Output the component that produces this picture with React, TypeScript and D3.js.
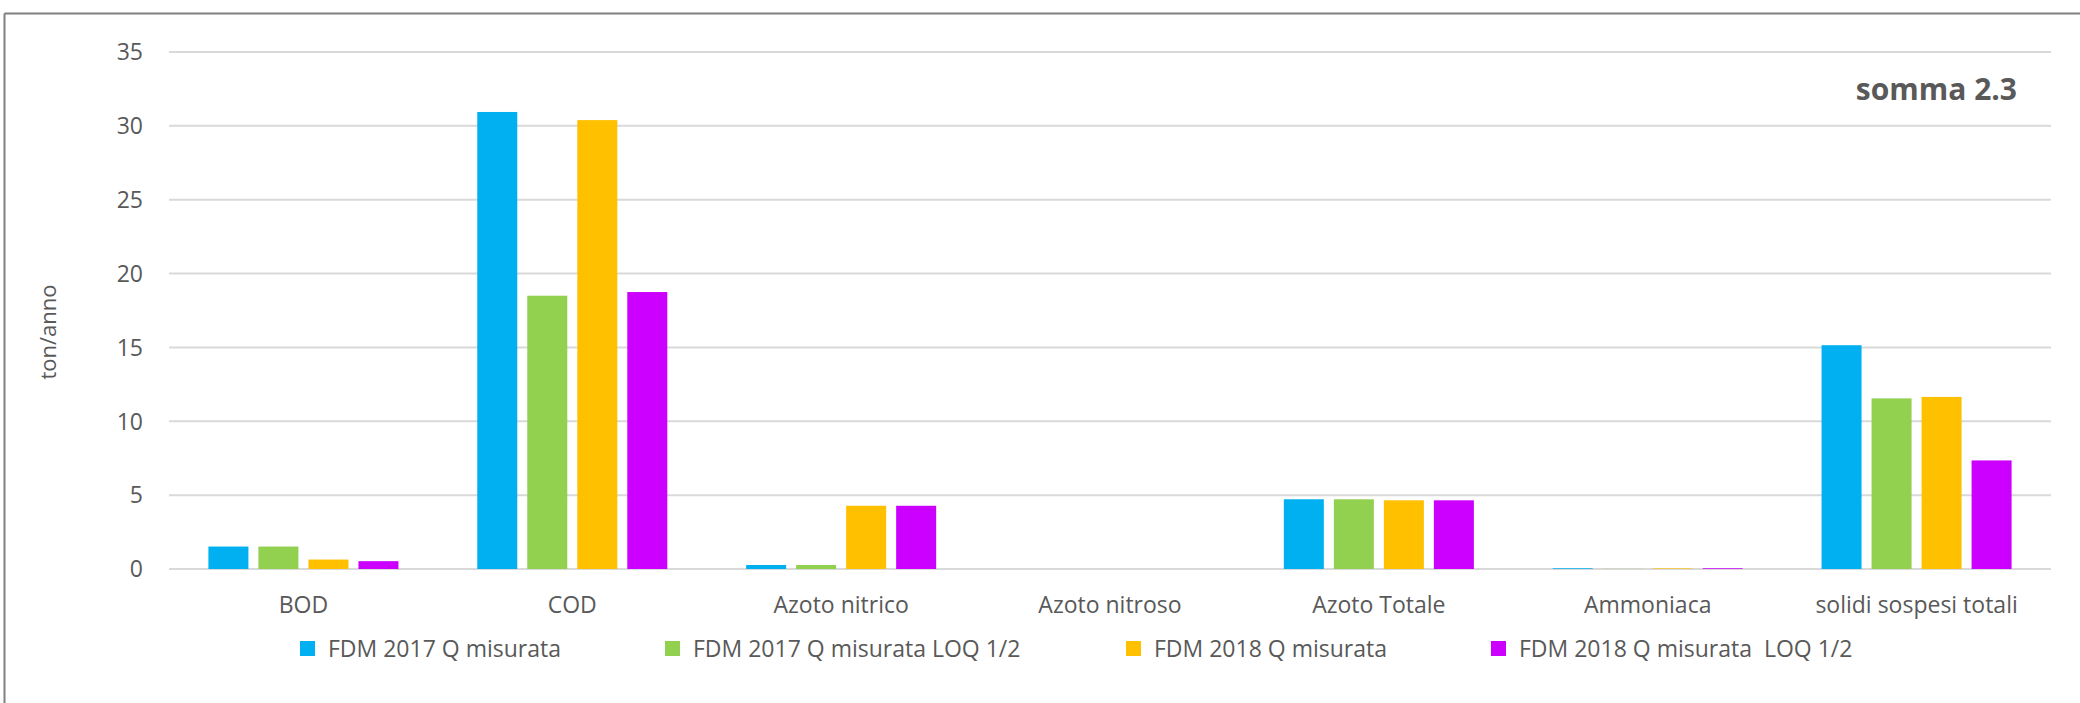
import React from 'react';
import * as d3 from 'd3';

// categorie e serie (ton/anno)
const categories = ['BOD', 'COD', 'Azoto nitrico', 'Azoto nitroso', 'Azoto Totale', 'Ammoniaca', 'solidi sospesi totali'];
const seriesNames = ['FDM 2017 Q misurata', 'FDM 2017 Q misurata LOQ 1/2', 'FDM 2018 Q misurata', 'FDM 2018 Q misurata  LOQ 1/2'];
const fdm2017 = [1.52, 30.94, 0.27, 0, 4.72, 0.05, 15.15];
const fdm2017loq = [1.52, 18.5, 0.27, 0, 4.72, 0.01, 11.55];
const fdm2018 = [0.64, 30.39, 4.28, 0, 4.65, 0.04, 11.65];
const fdm2018loq = [0.53, 18.75, 4.28, 0, 4.65, 0.05, 7.35];
const yTicks = [0, 5, 10, 15, 20, 25, 30, 35];
const colors = ['#00B0F0', '#92D050', '#FFC000', '#CC00FF'];

const W = 2080, H = 703;
const FONT = '"Open Sans", sans-serif';

export default function App() {
  const series = [fdm2017, fdm2017loq, fdm2018, fdm2018loq];

  const x = d3.scaleBand().domain(categories).range([169, 2051]).padding(0);
  const y = d3.scaleLinear().domain([0, 35]).range([569, 52]);

  const step = x.bandwidth();
  const barW = step / 6.72; // gap width ~197%, overlap -25%
  const barStep = barW * 1.25;
  const groupW = barW * 4 + barW * 0.25 * 3;
  const off = (step - groupW) / 2;

  const legendX = [300, 665, 1126, 1491];

  return (
    <svg width={W} height={H} style={{position: 'absolute', left: 0, top: 0}} fontFamily={FONT}>
      <rect x={0} y={0} width={W} height={H} fill="#fff" />
      {/* bordo */}
      <line x1={4.5} y1={13.5} x2={W} y2={13.5} stroke="#808080" strokeWidth={2} />
      <line x1={4.5} y1={13.5} x2={4.5} y2={H} stroke="#808080" strokeWidth={2} />

      {yTicks.map(t => (
        <g key={t}>
          <line x1={169} x2={2051} y1={y(t)} y2={y(t)} stroke="#D9D9D9" strokeWidth={2} />
          <text x={143} y={y(t)} dy="0.36em" textAnchor="end" fontSize={23} fill="#595959">{t}</text>
        </g>
      ))}

      {categories.map((c, ci) => (
        <g key={c}>
          {series.map((s, si) => (
            <rect key={si}
              x={(x(c) as number) + off + si * barStep}
              y={y(s[ci])}
              width={barW}
              height={y(0) - y(s[ci])}
              fill={colors[si]} />
          ))}
          <text x={(x(c) as number) + step / 2} y={613} textAnchor="middle" fontSize={23} fill="#595959">{c}</text>
        </g>
      ))}

      <text transform={`translate(56,332) rotate(-90)`} textAnchor="middle" fontSize={22} fill="#595959">ton/anno</text>

      <text x={2017} y={100} textAnchor="end" fontSize={30} fontWeight="bold" fill="#595959">somma 2.3</text>

      {seriesNames.map((n, i) => (
        <g key={n}>
          <rect x={legendX[i]} y={641} width={15} height={15} fill={colors[i]} />
          <text x={legendX[i] + 28} y={657} fontSize={23} fill="#595959" style={{whiteSpace: 'pre'}}>{n}</text>
        </g>
      ))}
    </svg>
  );
}
